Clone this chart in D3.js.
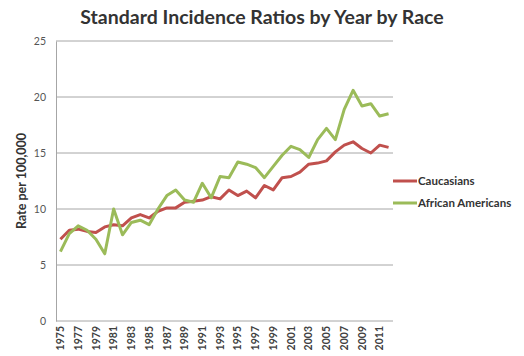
<!DOCTYPE html>
<html>
<head>
<meta charset="utf-8">
<script src="https://cdn.jsdelivr.net/npm/d3@7"></script>
<style>
  html, body { margin: 0; padding: 0; background: #fff; }
  svg { display: block; }
</style>
</head>
<body>
<svg id="chart" width="524" height="356"></svg>
<script>
// Years 1975–2012
const years = d3.range(1975, 2013);

const caucasians = [7.3, 8.1, 8.2, 8.0, 7.9, 8.4, 8.6, 8.5, 9.2, 9.5,
                    9.2, 9.8, 10.1, 10.1, 10.6, 10.7, 10.8, 11.1, 10.9, 11.7,
                    11.2, 11.6, 11.0, 12.1, 11.7, 12.8, 12.9, 13.3, 14.0, 14.1,
                    14.3, 15.1, 15.7, 16.0, 15.4, 15.0, 15.7, 15.5];

const africanAmericans = [6.2, 7.8, 8.5, 8.1, 7.3, 6.0, 10.0, 7.7, 8.8, 9.0,
                          8.6, 10.0, 11.2, 11.7, 10.8, 10.6, 12.3, 11.0, 12.9, 12.8,
                          14.2, 14.0, 13.7, 12.8, 13.8, 14.8, 15.6, 15.3, 14.6, 16.2,
                          17.2, 16.2, 18.9, 20.6, 19.2, 19.4, 18.3, 18.5];

const yTicks = [0, 5, 10, 15, 20, 25];
const xTickYears = years.filter((y, i) => i % 2 === 0);

const series = [
  { name: "Caucasians", values: caucasians, color: "#c0504d" },
  { name: "African Americans", values: africanAmericans, color: "#9bbb59" }
];

const svg = d3.select("#chart");
const margin = { left: 56, right: 131, top: 41, bottom: 35 };
const W = 524, H = 356;
const font = "Lato, 'Open Sans', sans-serif";

const x = d3.scaleBand()
  .domain(years)
  .range([margin.left, W - margin.right]);

const y = d3.scaleLinear()
  .domain([0, 25])
  .range([H - margin.bottom, margin.top]);

const cx = d => x(d) + x.bandwidth() / 2;

// Title
svg.append("text")
  .attr("x", 262)
  .attr("y", 24)
  .attr("text-anchor", "middle")
  .style("font-family", font)
  .style("font-weight", "bold")
  .style("font-size", "19.5px")
  .style("fill", "#333")
  .text("Standard Incidence Ratios by Year by Race");

// Horizontal gridlines
svg.append("g")
  .selectAll("line")
  .data(yTicks)
  .join("line")
  .attr("x1", margin.left)
  .attr("x2", W - margin.right)
  .attr("y1", d => y(d))
  .attr("y2", d => y(d))
  .attr("stroke", "#a6a6a6")
  .attr("stroke-width", 1);

// Y axis
const yAxis = svg.append("g")
  .attr("transform", `translate(${margin.left},0)`)
  .call(d3.axisLeft(y).tickValues(yTicks).tickSize(0).tickPadding(10));
yAxis.select(".domain").attr("stroke", "#a6a6a6");
yAxis.selectAll("text")
  .style("font-family", font)
  .style("font-size", "10.5px")
  .style("fill", "#555");

// X axis
const xAxis = svg.append("g")
  .attr("transform", `translate(0,${H - margin.bottom})`)
  .call(d3.axisBottom(x).tickValues(xTickYears).tickSize(0).tickFormat(d3.format("d")));
xAxis.select(".domain").remove();
xAxis.selectAll("text")
  .attr("transform", "rotate(-90)")
  .attr("text-anchor", "end")
  .attr("x", -5)
  .attr("y", 0)
  .attr("dy", "0.35em")
  .style("font-family", font)
  .style("font-weight", "bold")
  .style("font-size", "10.5px")
  .style("fill", "#404040");

// Y axis title
svg.append("text")
  .attr("transform", `translate(26,${(margin.top + H - margin.bottom) / 2}) rotate(-90)`)
  .attr("text-anchor", "middle")
  .style("font-family", font)
  .style("font-weight", "bold")
  .style("font-size", "12.5px")
  .style("fill", "#333")
  .text("Rate per 100,000");

// Lines
const line = d3.line()
  .x((d, i) => cx(years[i]))
  .y(d => y(d));

svg.append("g")
  .selectAll("path")
  .data(series)
  .join("path")
  .attr("d", d => line(d.values))
  .attr("fill", "none")
  .attr("stroke", d => d.color)
  .attr("stroke-width", 3)
  .attr("stroke-linejoin", "round");

// Legend
const legend = svg.append("g")
  .selectAll("g")
  .data(series)
  .join("g")
  .attr("transform", (d, i) => `translate(393,${181 + i * 22})`);
legend.append("line")
  .attr("x1", 0).attr("x2", 24)
  .attr("stroke", d => d.color)
  .attr("stroke-width", 3);
legend.append("text")
  .attr("x", 25)
  .attr("dy", "0.35em")
  .style("font-family", font)
  .style("font-weight", "bold")
  .style("font-size", "11.5px")
  .style("fill", "#333")
  .text(d => d.name);
</script>
</body>
</html>
